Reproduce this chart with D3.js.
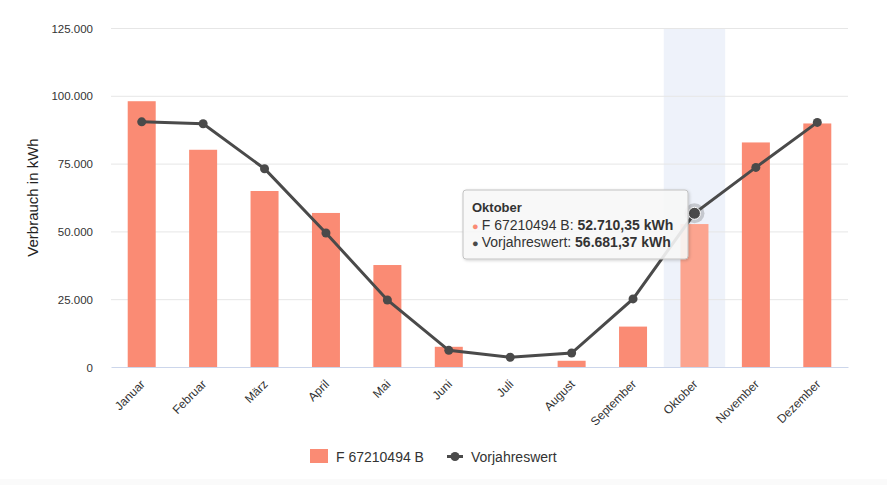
<!DOCTYPE html>
<html><head><meta charset="utf-8">
<script src="https://cdn.jsdelivr.net/npm/d3@7"></script>
<style>
body{margin:0;background:#fff;font-family:"Liberation Sans",Arial,Helvetica,sans-serif;}
svg{display:block}
</style></head><body>
<svg id="c" width="887" height="485"></svg>
<script>
const months = ["Januar","Februar","März","April","Mai","Juni","Juli","August","September","Oktober","November","Dezember"];
const currentValues = [98000,80100,64900,56800,37600,7450,0,2300,14900,52710.35,82800,89800];
const previousValues = [90400,89700,73100,49400,24700,6150,3600,5160,25100,56681.37,73600,90200];
const yTicks = [0,25000,50000,75000,100000,125000];
const seriesNames = ["F 67210494 B","Vorjahreswert"];
const hoverIndex = 9;

const svg = d3.select("#c");
const W=887,H=485;
const m={l:111,r:39,t:28,b:118};
const iw=W-m.l-m.r, ih=H-m.t-m.b;
const fmt = v => d3.format(",")(v).replace(/,/g,".");
const fmt2 = v => { const s=d3.format(",.2f")(v); return s.replace(/,/g,"#").replace(".",",").replace(/#/g,"."); };

// bottom shaded band
svg.append("rect").attr("x",0).attr("y",479).attr("width",W).attr("height",H-479).attr("fill","#fafafa");

const x = d3.scaleBand().domain(months).range([m.l,m.l+iw]).paddingInner(0).paddingOuter(0);
const y = d3.scaleLinear().domain([0,125000]).range([m.t+ih,m.t]);

// hover band
svg.append("rect").attr("x",x(months[hoverIndex])).attr("y",m.t).attr("width",x.bandwidth()).attr("height",ih).attr("fill","#eef2fa");

// grid
const g = svg.append("g");
g.selectAll("line.grid").data(yTicks.filter(d=>d>0)).join("line")
 .attr("x1",m.l).attr("x2",m.l+iw).attr("y1",d=>y(d)+0.5).attr("y2",d=>y(d)+0.5)
 .attr("stroke","#e6e6e6").attr("stroke-width",1);

// y axis labels
const yAxis = d3.axisLeft(y).tickValues(yTicks).tickFormat(fmt).tickSize(0).tickPadding(0);
const ya = svg.append("g").attr("transform",`translate(${m.l-18},0)`).call(yAxis);
ya.select(".domain").remove();
ya.selectAll("text").attr("font-size",11.5).attr("fill","#333").attr("font-family","Liberation Sans, Arial, sans-serif").attr("dy","0.35em");

svg.append("text").attr("transform",`translate(38,${m.t+ih/2}) rotate(-90)`).attr("text-anchor","middle")
 .attr("font-size",15).attr("fill","#222").text("Verbrauch in kWh");

// bars
const bw = 28;
svg.append("g").selectAll("rect").data(currentValues).join("rect")
 .attr("x",(d,i)=>x(months[i])+x.bandwidth()/2-bw/2)
 .attr("y",d=>y(d))
 .attr("width",bw).attr("height",d=>y(0)-y(d))
 .attr("fill",(d,i)=>i===hoverIndex?"#fca48f":"#fa8b74");

// x axis
const xAxis = d3.axisBottom(x).tickSize(0).tickPadding(0);
const xa = svg.append("g").attr("transform",`translate(0,${y(0)})`).call(xAxis);
xa.select(".domain").attr("stroke","#ccd6eb");
xa.selectAll("text").attr("font-size",12).attr("fill","#333").attr("font-family","Liberation Sans, Arial, sans-serif")
 .attr("text-anchor","end").attr("dy","0.35em")
 .attr("transform","translate(1,15) rotate(-45)");

// line
const line = d3.line().x((d,i)=>x(months[i])+x.bandwidth()/2).y(d=>y(d));
svg.append("path").datum(previousValues).attr("d",line).attr("fill","none").attr("stroke","#4a4a4a").attr("stroke-width",3);
svg.append("g").selectAll("circle").data(previousValues).join("circle")
 .attr("cx",(d,i)=>x(months[i])+x.bandwidth()/2).attr("cy",d=>y(d))
 .attr("r",(d,i)=>i===hoverIndex?0:4.5).attr("fill","#4a4a4a");
// hover marker
const hx = x(months[hoverIndex])+x.bandwidth()/2, hy=y(previousValues[hoverIndex]);
svg.append("circle").attr("cx",hx).attr("cy",hy).attr("r",10).attr("fill","#4a4a4a").attr("opacity",0.25);
svg.append("circle").attr("cx",hx).attr("cy",hy).attr("r",6).attr("fill","#4a4a4a").attr("stroke","#fff").attr("stroke-width",1);

// tooltip
const tt = svg.append("g").attr("transform","translate(463,190)");
const defs = svg.append("defs");
const f = defs.append("filter").attr("id","sh").attr("x","-10%").attr("y","-10%").attr("width","130%").attr("height","140%");
f.append("feDropShadow").attr("dx",1).attr("dy",1).attr("stdDeviation",1.5).attr("flood-color","#000").attr("flood-opacity",0.2);
tt.append("rect").attr("width",225).attr("height",69).attr("rx",3).attr("fill","rgba(249,249,249,0.88)").attr("stroke","#c2c2c2").attr("stroke-width",1).attr("filter","url(#sh)");
tt.append("text").attr("x",9).attr("y",22).attr("font-size",13).attr("font-weight","bold").attr("fill","#333").text(months[hoverIndex]);
const rows=[[seriesNames[0],currentValues[hoverIndex],"#fa8b74"],[seriesNames[1],previousValues[hoverIndex],"#4a4a4a"]];
rows.forEach((r,i)=>{
  const ty=40+i*16.5;
  const t=tt.append("text").attr("x",9).attr("y",ty).attr("font-size",14).attr("fill","#333");
  t.append("tspan").attr("fill",r[2]).attr("font-size",11).text("● ");
  t.append("tspan").text(r[0]+": ");
  t.append("tspan").attr("font-weight","bold").text(fmt2(r[1])+" kWh");
});

// legend
const lg = svg.append("g");
lg.append("rect").attr("x",310).attr("y",449).attr("width",18).attr("height",14).attr("fill","#fa8b74");
lg.append("text").attr("x",336).attr("y",461.5).attr("font-size",14).attr("fill","#333").text(seriesNames[0]);
lg.append("line").attr("x1",447).attr("x2",463).attr("y1",456.5).attr("y2",456.5).attr("stroke","#4a4a4a").attr("stroke-width",3);
lg.append("circle").attr("cx",455).attr("cy",456.5).attr("r",4.5).attr("fill","#4a4a4a");
lg.append("text").attr("x",471).attr("y",461.5).attr("font-size",14).attr("fill","#333").text(seriesNames[1]);
</script></body></html>
